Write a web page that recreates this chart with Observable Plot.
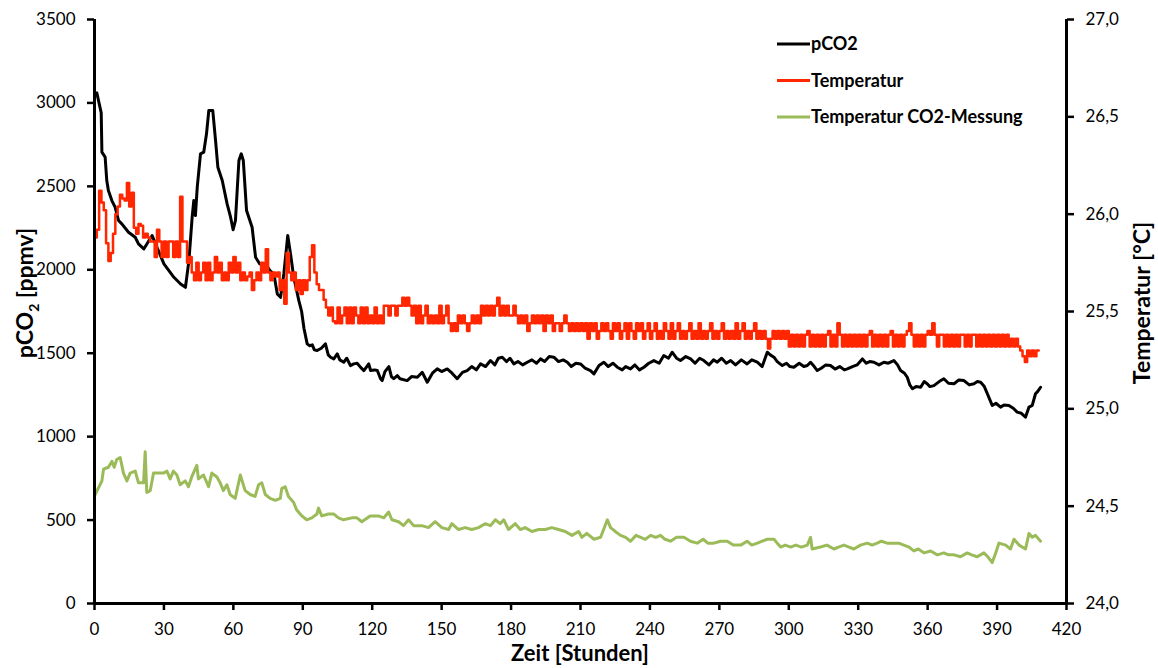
<!DOCTYPE html>
<html><head><meta charset="utf-8">
<script src="https://cdn.jsdelivr.net/npm/d3@7"></script>
<script src="https://cdn.jsdelivr.net/npm/@observablehq/plot@0.6"></script>
<style>body{margin:0;background:#fff;}</style>
</head><body><div id="chart"></div>
<script>
// ---- Data ----
const xTicks = [0,30,60,90,120,150,180,210,240,270,300,330,360,390,420];
const pco2Ticks = [0,500,1000,1500,2000,2500,3000,3500];
const tempTicks = [24.0,24.5,25.0,25.5,26.0,26.5,27.0];

const pco2Hours = [0,1,2.9,3.2,4.6,5.3,6,7.5,8.9,10.4,11.8,14.7,17.6,19,21.3,24.9,27,30,34.3,37.2,39.3,40.8,42.2,42.9,43.6,44.4,45.8,47.2,48.4,49.4,51.1,52.3,53.3,55.2,57.3,58.8,59.9,60.9,62.4,63.4,64.3,65.7,68.1,69.6,71.4,73.9,75.8,77.5,79,80.4,81.8,83.5,84.7,86.1,88.3,89.5,90.5,91.9,93,94.1,95,96.2,98,99.8,101,102,103.4,104.9,106,107.7,109,110.6,112,113.5,115,116.4,118.5,119.3,121,122.2,123.6,124.3,125.5,127.2,128.3,129.3,130.8,132,135.1,137,139.5,141.6,143.8,146,148.1,150,152.4,154.5,156.7,159,161,163,165,166.8,169,171.1,173,174.5,176.2,178,179.5,181.2,183,185,187,189,191,192.7,194.5,196.5,198.5,200.5,202.5,204.3,206,208,210,212,214.3,215.8,218,220.1,222,224,225.9,228,229.5,231.6,233.5,235.5,237.4,239.5,241.7,244,246,248,249.6,251.5,253.2,255.5,257.6,259.5,261.5,263.3,265.5,267.5,269.1,271,273,274.9,277,279.5,282,284,286.4,288.5,290.7,292,293.6,295,297.2,299,300.5,302.2,304.5,306.5,308,309.4,311,312.3,314,316,318,320,322,324,325.3,327.5,329.5,331.8,333.5,335,336.8,339,341.1,343,345.4,347,348.3,350,351.2,352.3,353.4,355,357,358.5,359.8,361,362.7,365,367,369,371.4,373.5,375.7,378,380,381.5,382.9,384.5,385.8,387.9,389.5,391.5,393,395.1,397,398.7,400.5,402.3,403.8,405.2,406.6,407.5,408.8];
const pco2Values = [3050,3060,2940,2705,2675,2535,2475,2415,2375,2295,2275,2225,2195,2155,2125,2205,2135,2035,1955,1915,1895,2055,2315,2415,2325,2495,2695,2705,2815,2955,2955,2775,2615,2535,2395,2315,2240,2295,2655,2695,2655,2355,2255,2075,2035,2035,1995,1975,1855,1835,1975,2205,2095,1955,1815,1750,1650,1556,1545,1550,1520,1516,1530,1556,1490,1476,1466,1496,1460,1446,1470,1426,1436,1440,1415,1396,1436,1396,1400,1396,1347,1336,1390,1420,1360,1347,1366,1347,1336,1360,1356,1386,1326,1380,1406,1390,1406,1380,1347,1385,1396,1420,1400,1436,1420,1456,1430,1470,1476,1450,1470,1436,1450,1430,1446,1460,1440,1466,1450,1480,1476,1450,1460,1446,1420,1440,1436,1410,1396,1376,1426,1446,1420,1440,1416,1400,1420,1406,1430,1400,1416,1440,1456,1440,1486,1470,1506,1470,1456,1480,1466,1440,1470,1456,1430,1460,1446,1470,1440,1456,1430,1460,1436,1460,1446,1420,1506,1490,1476,1450,1426,1440,1420,1416,1440,1420,1426,1446,1420,1396,1410,1430,1426,1405,1420,1400,1406,1420,1430,1466,1440,1450,1446,1430,1446,1440,1456,1430,1396,1380,1356,1310,1287,1300,1296,1330,1317,1300,1306,1330,1347,1320,1317,1340,1336,1310,1317,1330,1326,1300,1257,1187,1200,1177,1190,1187,1170,1147,1140,1117,1177,1187,1257,1270,1296];

// Temperatur: one reading per hour, 0 ... 408 h
const tempHours = d3.range(0, 409);
const tempValues = [
25.88,25.92,26.12,26.06,26.02,25.85,25.76,25.80,25.90,26.00,
26.04,26.10,26.08,26.07,26.16,26.04,26.11,25.93,25.90,25.95,
25.94,25.88,25.90,25.88,25.86,25.86,25.78,25.92,25.86,25.78,
25.86,25.78,25.86,25.86,25.78,25.86,25.78,26.09,25.86,25.86,
25.75,25.78,25.70,25.66,25.75,25.66,25.70,25.75,25.66,25.75,
25.66,25.70,25.78,25.70,25.75,25.66,25.70,25.66,25.75,25.70,
25.78,25.70,25.75,25.66,25.70,25.66,25.68,25.70,25.61,25.66,
25.70,25.66,25.75,25.70,25.82,25.70,25.66,25.70,25.68,25.70,
25.61,25.66,25.54,25.80,25.70,25.66,25.70,25.61,25.66,25.59,
25.66,25.61,25.66,25.78,25.84,25.70,25.64,25.61,25.61,25.56,
25.52,25.48,25.52,25.45,25.44,25.52,25.44,25.48,25.52,25.44,
25.52,25.44,25.52,25.48,25.44,25.52,25.44,25.52,25.44,25.48,
25.44,25.52,25.44,25.48,25.44,25.53,25.53,25.48,25.53,25.53,
25.48,25.53,25.53,25.57,25.53,25.57,25.53,25.48,25.53,25.44,
25.53,25.44,25.48,25.53,25.44,25.48,25.44,25.48,25.44,25.53,
25.44,25.48,25.53,25.44,25.40,25.44,25.40,25.48,25.44,25.48,
25.44,25.40,25.44,25.48,25.44,25.48,25.44,25.53,25.48,25.53,
25.48,25.53,25.48,25.53,25.57,25.48,25.53,25.48,25.53,25.48,
25.48,25.53,25.48,25.44,25.48,25.44,25.48,25.40,25.44,25.48,
25.44,25.48,25.44,25.48,25.40,25.48,25.44,25.48,25.40,25.44,
25.44,25.40,25.44,25.48,25.44,25.40,25.44,25.40,25.44,25.40,
25.44,25.40,25.44,25.36,25.44,25.40,25.44,25.36,25.40,25.44,
25.40,25.44,25.40,25.36,25.44,25.40,25.44,25.36,25.40,25.44,
25.36,25.44,25.40,25.36,25.44,25.40,25.44,25.36,25.40,25.44,
25.36,25.40,25.44,25.36,25.40,25.36,25.44,25.40,25.36,25.44,
25.36,25.40,25.44,25.36,25.40,25.36,25.40,25.44,25.36,25.40,
25.36,25.44,25.36,25.40,25.36,25.40,25.44,25.36,25.40,25.36,
25.40,25.44,25.36,25.40,25.36,25.40,25.36,25.44,25.36,25.40,
25.44,25.36,25.40,25.36,25.40,25.44,25.36,25.40,25.36,25.40,
25.36,25.31,25.36,25.40,25.36,25.40,25.36,25.40,25.36,25.40,
25.32,25.38,25.32,25.38,25.32,25.38,25.32,25.38,25.40,25.32,
25.38,25.32,25.38,25.32,25.38,25.32,25.38,25.40,25.32,25.38,
25.32,25.44,25.38,25.32,25.38,25.32,25.38,25.32,25.38,25.32,
25.38,25.32,25.38,25.32,25.38,25.40,25.32,25.38,25.32,25.38,
25.32,25.38,25.32,25.38,25.40,25.32,25.38,25.32,25.38,25.32,
25.38,25.40,25.44,25.38,25.32,25.38,25.32,25.38,25.32,25.38,
25.40,25.38,25.44,25.38,25.32,25.38,25.38,25.32,25.38,25.32,
25.38,25.32,25.38,25.32,25.38,25.38,25.32,25.38,25.32,25.38,
25.38,25.32,25.38,25.32,25.38,25.32,25.38,25.32,25.38,25.32,
25.38,25.32,25.38,25.32,25.38,25.32,25.36,25.32,25.36,25.32,
25.30,25.27,25.24,25.30,25.27,25.30,25.27,25.30,25.30];

const co2TempHours = [0.3,3.2,3.9,6,7.5,8.5,9.6,11.1,12.5,14,15.4,17.6,19,21.2,21.9,22.6,24.1,25.5,27.7,29.8,31.3,32.7,34.1,35.6,37,39.2,40.6,42,44.2,44.9,47.1,49.3,50.7,52.9,54.3,55.7,57.2,58.6,60.8,63,65.1,67.3,69.4,70.9,72.3,73.8,75.9,78.1,80.3,80.9,82.4,83.8,86,87.4,89.6,91.7,93.9,96.1,96.8,98.2,101.1,103.3,105.4,107.6,111.2,113.4,115.5,119.1,122.7,125,127.1,128.5,131.4,133.5,135.7,137.9,141.4,144.3,147.2,150.1,153,154.4,157.3,160.2,163,165.9,168.8,171.1,173.2,175.3,176.8,178.9,181.8,184,186.1,189,191.9,194.8,197.6,200.5,203.4,206.3,209.2,210.6,212.7,215.8,218.7,221.6,223,225,227.3,229.5,231.6,234,236,238,240.3,242.5,244.6,246.5,248.9,251.5,254.7,257.5,260.4,263,265,267.6,270.5,273.4,276,279.2,282,284,286.4,288.5,290.7,293.6,295,296.5,298.5,300.8,303,305.5,308,309.4,310.1,313.7,316.5,319.5,321.5,323.8,326,328.1,331,333.9,336,338.2,340,342.5,345.4,347.5,349.7,352,354,356,358.4,361.3,364.2,367,369,371.4,374.2,377.1,379,381.4,384.3,386,387.9,389.4,390.8,393.7,395.8,397.3,399.5,402.3,403.8,405.2,406.6,408.8];
const co2TempValues = [24.56,24.63,24.69,24.70,24.73,24.70,24.74,24.75,24.67,24.63,24.67,24.68,24.62,24.62,24.78,24.57,24.58,24.67,24.67,24.67,24.68,24.64,24.68,24.66,24.61,24.63,24.60,24.65,24.71,24.64,24.66,24.60,24.67,24.65,24.62,24.58,24.61,24.56,24.54,24.66,24.58,24.56,24.55,24.61,24.62,24.56,24.54,24.53,24.54,24.59,24.60,24.55,24.52,24.48,24.45,24.43,24.44,24.46,24.49,24.45,24.46,24.46,24.44,24.43,24.44,24.44,24.42,24.45,24.45,24.44,24.47,24.43,24.42,24.40,24.43,24.40,24.40,24.39,24.42,24.39,24.38,24.41,24.38,24.39,24.38,24.39,24.41,24.40,24.43,24.41,24.43,24.38,24.41,24.38,24.39,24.37,24.38,24.38,24.39,24.38,24.37,24.35,24.37,24.34,24.36,24.33,24.34,24.43,24.39,24.37,24.35,24.34,24.32,24.35,24.34,24.33,24.35,24.34,24.35,24.33,24.32,24.34,24.34,24.32,24.31,24.33,24.31,24.31,24.32,24.32,24.30,24.30,24.32,24.30,24.31,24.32,24.33,24.33,24.31,24.29,24.30,24.29,24.30,24.29,24.30,24.34,24.28,24.29,24.30,24.28,24.29,24.30,24.29,24.28,24.30,24.31,24.30,24.31,24.32,24.31,24.31,24.31,24.30,24.29,24.27,24.28,24.26,24.27,24.25,24.26,24.25,24.25,24.24,24.26,24.25,24.24,24.26,24.24,24.21,24.26,24.31,24.30,24.28,24.33,24.30,24.28,24.36,24.34,24.35,24.32];

const seriesNames = ["pCO2", "Temperatur", "Temperatur CO2-Messung"];
const seriesColors = ["#000000", "#ff2600", "#9bbb59"];

// ---- Secondary axis mapping: 24..27 °C onto 0..3500 ppmv ----
const T0 = 24, T1 = 27, P1 = 3500;
const toLeft = t => (t - T0) * P1 / (T1 - T0);
const toTemp = p => T0 + p * (T1 - T0) / P1;

const font = "Lato, 'Open Sans', sans-serif";

const chart = Plot.plot({
  width: 1158, height: 668,
  marginLeft: 94, marginRight: 92, marginTop: 19, marginBottom: 65,
  style: {fontFamily: font, fontSize: "17px", color: "#000", background: "#fff"},
  x: {domain: [0, 420]},
  y: {domain: [0, 3500]},
  marks: [
    Plot.line(pco2Values, {x: pco2Hours, y: pco2Values, stroke: seriesColors[0], strokeWidth: 3, strokeLinejoin: "round"}),
    Plot.line(tempValues, {x: tempHours, y: tempValues.map(toLeft), stroke: seriesColors[1], strokeWidth: 2.5, curve: "step-after"}),
    Plot.line(co2TempValues, {x: co2TempHours, y: co2TempValues.map(toLeft), stroke: seriesColors[2], strokeWidth: 3, strokeLinejoin: "round"}),
    Plot.ruleX([0], {y1: 0, y2: 3500, stroke: "#000", strokeWidth: 3}),
    Plot.ruleX([420], {y1: 0, y2: 3500, stroke: "#000", strokeWidth: 3}),
    Plot.ruleY([0], {x1: 0, x2: 420, stroke: "#000", strokeWidth: 3}),
    Plot.axisX(xTicks, {tickSize: 7, tickPadding: 12, strokeWidth: 2.5, label: null, tickFormat: d => String(d)}),
    Plot.axisY(pco2Ticks, {anchor: "left", tickSize: 7, tickPadding: 12, strokeWidth: 2.5, label: null, tickFormat: d => String(d)}),
    Plot.axisY(tempTicks.map(toLeft), {anchor: "right", tickSize: 7, tickPadding: 12, strokeWidth: 2.5, label: null,
      tickFormat: d => toTemp(d).toFixed(1).replace(".", ",")})
  ]
});
document.getElementById("chart").appendChild(chart);

// ---- Axis titles and legend ----
const svg = d3.select(chart);
const g = svg.append("g").attr("font-family", font).attr("font-weight", "bold").attr("fill", "#000");

const yl = g.append("text").attr("transform", "translate(33,293) rotate(-90)")
  .attr("text-anchor", "middle").attr("font-size", 23);
yl.append("tspan").text("pCO");
yl.append("tspan").attr("font-size", 14).attr("dy", 6).text("2");
yl.append("tspan").attr("dy", -6).text(" [ppmv]");

g.append("text").attr("transform", "translate(1150,303) rotate(-90)")
  .attr("text-anchor", "middle").attr("font-size", 23).text("Temperatur [°C]");

g.append("text").attr("x", 580).attr("y", 661)
  .attr("text-anchor", "middle").attr("font-size", 22).text("Zeit [Stunden]");

const leg = g.append("g");
seriesNames.forEach((name, i) => {
  const y = 44 + i * 36.5;
  leg.append("line").attr("x1", 777).attr("x2", 810).attr("y1", y).attr("y2", y)
    .attr("stroke", seriesColors[i]).attr("stroke-width", 3);
  leg.append("text").attr("x", 811).attr("y", y + 6).attr("text-anchor", "start")
    .attr("font-size", 18).text(name);
});
</script></body></html>
